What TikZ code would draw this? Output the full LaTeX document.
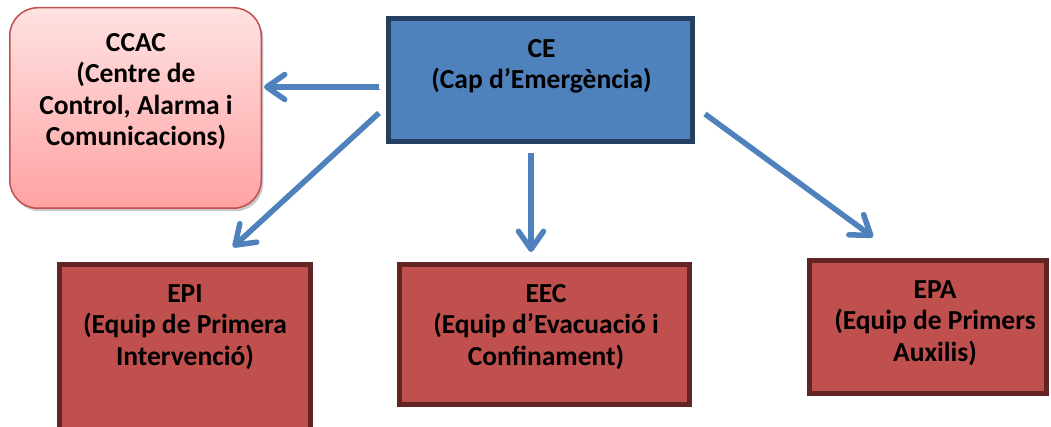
\documentclass[tikz,border=0pt]{standalone}
\usepackage{fontspec}
\setmainfont{Carlito}
\usetikzlibrary{arrows.meta,shadows}
\definecolor{ceblue}{HTML}{4F81BD}
\definecolor{ceborder}{HTML}{243F60}
\definecolor{redfill}{HTML}{C0504D}
\definecolor{redborder}{HTML}{632523}
\definecolor{pinktop}{HTML}{FFE2E2}
\definecolor{pinkbot}{HTML}{FFA2A2}
\definecolor{arrowblue}{HTML}{4F81BD}
\tikzset{
  x=1pt,y=1pt,
  redbox/.style={draw=redborder,fill=redfill,line width=5pt,rectangle,inner sep=0pt},
  cebox/.style={draw=ceborder,fill=ceblue,line width=5pt,rectangle,inner sep=0pt},
  ccacbox/.style={draw=redfill,line width=1.5pt,rounded corners=28pt,top color=pinktop,bottom color=pinkbot,inner sep=0pt,
    drop shadow={shadow xshift=2pt,shadow yshift=-3pt,opacity=0.35,fill=black!60}},
  txt/.style={anchor=north,inner sep=0pt,align=center,font=\fontsize{27.5}{31.5}\selectfont\bfseries},
  arr/.style={draw=arrowblue,line width=5.5pt,
    -{Straight Barb[length=18pt,width=25pt,round]},
    preaction={draw=black!30,transform canvas={shift={(1.5pt,-1.8pt)}}}}
}
\newcommand{\fl}{\rule{0pt}{22pt}}
\begin{document}
\begin{tikzpicture}
\clip (0,0) rectangle (1051,427);
\fill[white] (0,0) rectangle (1051,427);
% boxes
\node[ccacbox,minimum width=251.5pt,minimum height=200.5pt] (ccac) at (135.5,319) {};
\node[cebox,minimum width=304pt,minimum height=123pt] (ce) at (540.5,347) {};
\node[redbox,minimum width=251pt,minimum height=180pt] (epi) at (185,72.5) {};
\node[redbox,minimum width=290pt,minimum height=140pt] (eec) at (544.5,92.5) {};
\node[redbox,minimum width=237pt,minimum height=133pt] (epa) at (928,100) {};
% texts
\node[txt] (tccac) at (136,398) {\fl CCAC\\(Centre de\\Control, Alarma i\\Comunicacions)};
\node[txt] (tce) at (541.5,392) {\fl CE\\(Cap d’Emergència)};
\node[txt] (tepi) at (185,147) {\fl EPI\\(Equip de Primera\\Intervenció)};
\node[txt] (teec) at (546,147) {\fl EEC\\(Equip d’Evacuació i\\Confinament)};
\node[txt] (tepa) at (935,151) {\fl EPA\\(Equip de Primers\\Auxilis)};
% arrows
\draw[arr] ([shift={(-7,-7)}]ce.west) -- ([shift={(2,21)}]ccac.east);
\draw[arr] ([shift={(-7,-33)}]ce.west) -- ([shift={(48,15)}]epi.north);
\draw[arr] ([shift={(-9.5,-9)}]ce.south) -- ([shift={(-13.5,10)}]eec.north);
\draw[arr] ([shift={(10,-34)}]ce.east) -- ([shift={(-55,21)}]epa.north);
\end{tikzpicture}
\end{document}
